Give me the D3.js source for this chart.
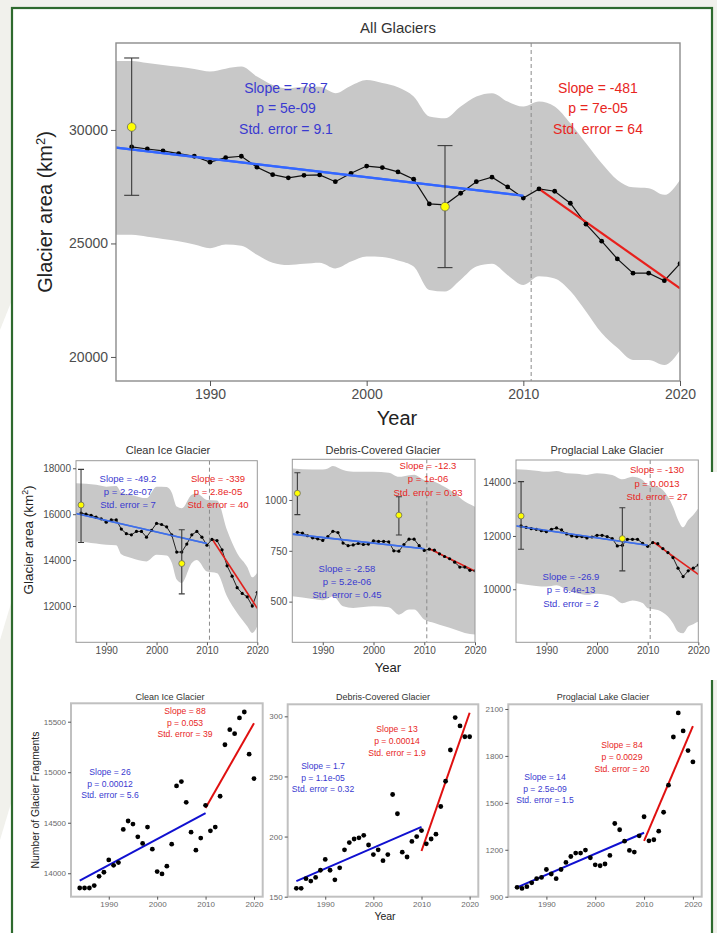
<!DOCTYPE html>
<html>
<head>
<meta charset="utf-8">
<script src="https://cdn.jsdelivr.net/npm/d3@7"></script>
<style>
  body { margin: 0; background: #f1f1ec; }
  svg { display: block; font-family: "Liberation Sans", Arial, sans-serif; }
</style>
</head>
<body>
<div id="chart"></div>
<script>
// ---------- data ----------
var areaYears = [1985,1986,1987,1988,1989,1990,1991,1992,1993,1994,1995,1996,1997,1998,1999,2000,2001,2002,
  2003,2004,2005,2006,2007,2008,2009,2010,2011,2012,2013,2014,2015,2016,2017,2018,2019,2020];
var bandYears = [1984,1985,1986,1987,1988,1989,1990,1991,1992,1993,1994,1995,1996,1997,1998,1999,2000,2001,2002,
  2003,2004,2005,2006,2007,2008,2009,2010,2011,2012,2013,2014,2015,2016,2017,2018,2019,2020];
var fragYears = bandYears;
var spotYears = [1985, 2005];

// All glaciers (km2)
var allArea = [29250,29160,29080,28960,28840,28580,28780,28840,28360,28030,
  27890,28000,28020,27720,28090,28410,28340,28150,27830,26740,
  26700,27210,27720,27920,27490,27000,27400,27300,26770,25850,
  25100,24320,23690,23690,23360,24110];
var allUpper = [33040,33040,32950,32860,32780,32680,32570,32700,32790,32350,
  31980,31830,31900,31900,31620,31950,32200,32070,31880,31470,
  30590,30510,31030,31470,31620,31250,31030,31250,31030,30290,
  29410,28530,27800,27470,27430,27140,27800];
var allLower = [25380,25380,25300,25200,25100,24950,24790,24950,24900,24500,
  24150,24050,24100,24150,23900,24200,24420,24400,24250,23980,
  22950,22880,23400,23980,24100,23600,23170,23550,23450,22900,
  22000,21050,20400,19870,19870,19650,20300];
var allSpot = [30130, 26620], allSpotLo = [27120, 23935], allSpotHi = [33170, 29310];
var allTrendPre = [[1984, 29220], [2010, 27100]];
var allTrendPost = [[2011, 27400], [2020, 23020]];

// Clean ice (km2)
var cleanArea = [16050,16000,15950,15870,15800,15650,15750,15750,15350,15150,
  15100,15250,15250,15000,15300,15600,15550,15450,15100,14350,
  14350,14700,15100,15250,15000,14650,14900,14850,14450,13750,
  13300,12800,12550,12400,12000,12600];
var cleanBandYears = [1984,1986,1988,1990,1992,1993,1995,1998,2000,2002,2003,2004,2005,2007,2008,2010,2012,2014,2016,2018,2019,2020];
var cleanUpper = [17350,17330,17280,17200,17230,16950,16840,16700,17200,17180,16950,16330,16260,16850,16900,16620,16600,15300,14300,13700,13250,13450];
var cleanLower = [14810,14780,14720,14670,14650,14250,14090,13940,14230,14200,13900,13150,13000,13870,14000,13500,13430,12420,11700,11120,10830,11120];
var cleanSpot = [16400, 13850], cleanSpotLo = [14770, 12530], cleanSpotHi = [17950, 15320];
var cleanTrendPre = [[1984, 16030], [2010, 14720]];
var cleanTrendPost = [[2011, 14930], [2020, 11900]];

// Debris-covered (km2)
var debrisArea = [841,837,824,814,809,801,820,846,840,788,
  775,779,786,781,783,799,796,796,794,750,
  748,781,807,807,775,752,758,753,735,722,
  711,694,670,670,654,652];
var debrisBandYears = [1984,1988,1990,1991,1992,1994,1996,2000,2003,2005,2007,2008,2010,2012,2014,2016,2018,2020];
var debrisUpper = [1155,1150,1150,1155,1167,1147,1139,1139,1134,1114,1122,1124,1098,1090,1065,1033,992,967];
var debrisLower = [526,513,507,515,526,477,469,477,472,436,461,461,412,395,379,363,346,338];
var debrisSpot = [1033, 925], debrisSpotLo = [928, 828], debrisSpotHi = [1134, 1016];
var debrisTrendPre = [[1984, 832], [2010, 760]];
var debrisTrendPost = [[2011, 760], [2020, 650]];

// Proglacial lake (km2)
var lakeArea = [12375,12325,12275,12250,12200,12160,12250,12300,12225,12075,
  12000,11975,11975,11925,11960,12025,12025,11975,11900,11625,
  11650,11875,11875,11875,11725,11610,11750,11710,11525,11375,
  11190,10790,10475,10690,10790,10910];
var lakeBandYears = [1984,1988,1990,1992,1994,1996,1998,2000,2003,2005,2007,2009,2010,2012,2014,2015,2016,2017,2018,2019,2020];
var lakeUpper = [14500,14450,14410,14440,14350,14330,14290,14350,14290,14125,14225,14100,13910,13850,13475,13100,12600,12325,12600,12790,13040];
var lakeLower = [10225,10125,10100,10150,9975,9850,9790,9830,9725,9475,9575,9480,9290,9225,8975,8725,8410,8350,8600,8690,8790];
var lakeSpot = [12750, 11900], lakeSpotLo = [11500, 10690], lakeSpotHi = [14040, 13060];
var lakeTrendPre = [[1984, 12375], [2010, 11650]];
var lakeTrendPost = [[2011, 11790], [2020, 10560]];

// Number of glacier fragments
var cleanFrag = [13854,13854,13854,13878,13970,14010,14132,14079,14106,14434,
  14517,14487,14361,14295,14457,14238,14017,13993,14070,14288,
  14864,14907,14702,14407,14228,14348,14672,14420,14457,14762,
  15272,15421,15381,15537,15596,15179,14937];
var debrisFrag = [157,157,165,163,166,172,181,172,164,174,
  189,195,198,199,201,193,185,189,180,185,
  235,219,187,183,196,200,205,194,198,202,
  225,246,272,299,292,283,283];
var lakeFrag = [960,953,964,989,1015,1023,1074,1045,1015,1074,
  1119,1157,1179,1179,1198,1149,1104,1098,1109,1164,
  1368,1328,1255,1196,1185,1289,1411,1257,1264,1319,
  1440,1613,1921,2075,1960,1834,1762];
var cleanFragPre = [[1984, 13927], [2010, 14595]], cleanFragPost = [[2010, 14646], [2020, 15485]];
var debrisFragPre = [[1984, 163], [2010, 208]], debrisFragPost = [[2010, 188], [2020, 303]];
var lakeFragPre = [[1984, 960], [2010, 1309]], lakeFragPost = [[2010, 1257], [2020, 1990]];

// tick labels
var yearTicks = [1990, 2000, 2010, 2020];
var allTicks = [20000, 25000, 30000];
var cleanTicks = [12000, 14000, 16000, 18000];
var debrisTicks = [500, 750, 1000];
var lakeTicks = [10000, 12000, 14000];
var cleanFragTicks = [14000, 14500, 15000, 15500];
var debrisFragTicks = [150, 200, 250, 300];
var lakeFragTicks = [900, 1200, 1500, 1800, 2100];

// statistics text
var allPreStats = ["Slope = -78.7", "p = 5e-09", "Std. error = 9.1"];
var allPostStats = ["Slope = -481", "p = 7e-05", "Std. error = 64"];
var cleanPreStats = ["Slope = -49.2", "p = 2.2e-07", "Std. error = 7"];
var cleanPostStats = ["Slope = -339", "p = 2.8e-05", "Std. error = 40"];
var debrisPreStats = ["Slope = -2.58", "p = 5.2e-06", "Std. error = 0.45"];
var debrisPostStats = ["Slope = -12.3", "p = 1e-06", "Std. error = 0.93"];
var lakePreStats = ["Slope = -26.9", "p = 6.4e-13", "Std. error = 2"];
var lakePostStats = ["Slope = -130", "p = 0.0013", "Std. error = 27"];
var cleanFragPreStats = ["Slope = 26", "p = 0.00012", "Std. error = 5.6"];
var cleanFragPostStats = ["Slope = 88", "p = 0.053", "Std. error = 39"];
var debrisFragPreStats = ["Slope = 1.7", "p = 1.1e-05", "Std. error = 0.32"];
var debrisFragPostStats = ["Slope = 13", "p = 0.00014", "Std. error = 1.9"];
var lakeFragPreStats = ["Slope = 14", "p = 2.5e-09", "Std. error = 1.5"];
var lakeFragPostStats = ["Slope = 84", "p = 0.0029", "Std. error = 20"];

// ---------- page ----------
var svgWidth = 717;
var svgHeight = 933;
var breakYear = 2010.5;

var svg = d3.select("#chart")
  .append("svg")
  .attr("width", svgWidth)
  .attr("height", svgHeight);

svg.append("rect").attr("width", svgWidth).attr("height", svgHeight).attr("fill", "#f1f1ec");
svg.append("path").attr("d", "M0,330 L12,300 L12,600 L0,640 Z").attr("fill", "#fff");
svg.append("path").attr("d", "M0,840 L12,800 L12,933 L0,933 Z").attr("fill", "#fff");

// green frame
svg.append("rect")
  .attr("x", 12).attr("y", 8)
  .attr("width", 700).attr("height", 940)
  .attr("fill", "#fff")
  .attr("stroke", "#2e6a2e")
  .attr("stroke-width", 2.2);
// the middle row picture runs over the right edge of the frame
svg.append("rect").attr("x", 700).attr("y", 472).attr("width", 17).attr("height", 208).attr("fill", "#fff");

function statText(lines, cx, cy, gap, size, color) {
  svg.append("g").selectAll("text").data(lines).enter()
    .append("text")
    .attr("x", cx)
    .attr("y", (d, i) => cy + i * gap + size * 0.35)
    .attr("text-anchor", "middle")
    .attr("font-size", size)
    .attr("fill", color)
    .text(d => d);
}

function drawPanel(p) {
  var x = d3.scaleLinear().domain(p.xDomain).range([p.left, p.right]);
  var y = d3.scaleLinear().domain(p.yDomain).range([p.bottom, p.top]);

  var clipId = "clip" + p.id;
  svg.append("clipPath").attr("id", clipId)
    .append("rect")
    .attr("x", p.left).attr("y", p.top)
    .attr("width", p.right - p.left).attr("height", p.bottom - p.top);

  var g = svg.append("g").attr("clip-path", `url(#${clipId})`);

  // uncertainty band
  if (p.bandYears) {
    var area = d3.area()
      .x((d, i) => x(p.bandYears[i]))
      .y0((d, i) => y(p.lower[i]))
      .y1((d, i) => y(p.upper[i]))
      .curve(d3.curveMonotoneX);
    g.append("path").datum(p.upper).attr("d", area).attr("fill", "#c8c8c8");
  }

  if (p.dashed) {
    g.append("line")
      .attr("x1", x(breakYear)).attr("x2", x(breakYear))
      .attr("y1", p.top).attr("y2", p.bottom)
      .attr("stroke", "#8a8a8a").attr("stroke-width", 1)
      .attr("stroke-dasharray", "4,3");
  }

  var line = d3.line().x(d => x(d[0])).y(d => y(d[1]));

  // measured series
  if (p.connect) {
    g.append("path")
      .datum(p.values.map((v, i) => [p.years[i], v]))
      .attr("d", line)
      .attr("fill", "none")
      .attr("stroke", "#111")
      .attr("stroke-width", p.lineW);
  }

  // trend lines
  g.append("path").datum(p.pre).attr("d", line)
    .attr("fill", "none").attr("stroke", p.blue).attr("stroke-width", p.trendW);
  g.append("path").datum(p.post).attr("d", line)
    .attr("fill", "none").attr("stroke", p.red).attr("stroke-width", p.trendW);

  g.selectAll(".pt").data(p.values).enter()
    .append("circle")
    .attr("cx", (d, i) => x(p.years[i]))
    .attr("cy", d => y(d))
    .attr("r", p.dotR)
    .attr("fill", "#000");

  if (p.connect) {
    g.append("path").datum(p.pre).attr("d", line)
      .attr("fill", "none").attr("stroke", p.blue).attr("stroke-width", p.trendW).attr("opacity", 0.9);
  }

  // survey spots with error bars
  if (p.spot) {
    p.spot.forEach(function(v, i) {
      var sx = x(spotYears[i]);
      var eg = g.append("g").attr("stroke", "#3a3a3a").attr("stroke-width", 1.1);
      eg.append("line").attr("x1", sx).attr("x2", sx).attr("y1", y(p.spotLo[i])).attr("y2", y(p.spotHi[i]));
      eg.append("line").attr("x1", sx - p.cap).attr("x2", sx + p.cap).attr("y1", y(p.spotLo[i])).attr("y2", y(p.spotLo[i]));
      eg.append("line").attr("x1", sx - p.cap).attr("x2", sx + p.cap).attr("y1", y(p.spotHi[i])).attr("y2", y(p.spotHi[i]));
      g.append("circle")
        .attr("cx", sx).attr("cy", y(v))
        .attr("r", p.spotR)
        .attr("fill", "#ffff00")
        .attr("stroke", "#666")
        .attr("stroke-width", 0.8);
    });
  }

  // panel border
  svg.append("rect")
    .attr("x", p.left).attr("y", p.top)
    .attr("width", p.right - p.left).attr("height", p.bottom - p.top)
    .attr("fill", "none")
    .attr("stroke", p.border)
    .attr("stroke-width", p.borderW);

  // axes
  var bottomAxis = d3.axisBottom(x).tickValues(yearTicks).tickFormat(d3.format("d"))
    .tickSize(p.tick).tickPadding(p.pad);
  var leftAxis = d3.axisLeft(y).tickValues(p.yTicks).tickFormat(d3.format("d"))
    .tickSize(p.tick).tickPadding(p.pad);

  var xa = svg.append("g").attr("transform", `translate(0,${p.bottom})`).call(bottomAxis);
  var ya = svg.append("g").attr("transform", `translate(${p.left},0)`).call(leftAxis);
  [xa, ya].forEach(function(a) {
    a.select(".domain").remove();
    a.selectAll(".tick line").attr("stroke", "#555");
    a.selectAll(".tick text")
      .attr("fill", p.tickColor)
      .attr("font-size", p.tickFont)
      .attr("font-family", "Liberation Sans, Arial, sans-serif");
  });

  // title
  svg.append("text")
    .attr("x", p.titleX).attr("y", p.titleY)
    .attr("text-anchor", "middle")
    .attr("font-size", p.titleFont)
    .attr("fill", "#333")
    .text(p.title);

  statText(p.preStats, p.preX, p.preY, p.gap, p.statFont, p.blueText);
  statText(p.postStats, p.postX, p.postY, p.gap, p.statFont, p.redText);
}

// ---------- top panel ----------
drawPanel({
  id: "all", left: 116, right: 680, top: 43, bottom: 381,
  xDomain: [1984, 2020], yDomain: [18940, 33830], yTicks: allTicks,
  years: areaYears, values: allArea, connect: true, lineW: 1.2, dotR: 2.4,
  bandYears: bandYears, upper: allUpper, lower: allLower, dashed: true,
  pre: allTrendPre, post: allTrendPost, trendW: 2.2, blue: "#3366ff", red: "#e8201c",
  spot: allSpot, spotLo: allSpotLo, spotHi: allSpotHi, cap: 7.5, spotR: 4.3,
  border: "#8c8c8c", borderW: 1.4, tick: 5, pad: 3, tickFont: 14, tickColor: "#4d4d4d",
  title: "All Glaciers", titleX: 398, titleY: 33, titleFont: 15,
  preStats: allPreStats, preX: 286, preY: 88.3,
  postStats: allPostStats, postX: 598, postY: 88.3,
  gap: 20.2, statFont: 14, blueText: "#3a3ad0", redText: "#e8261e"
});

// ---------- middle row ----------
var mid = {
  xDomain: [1984, 2020], years: areaYears, connect: true, lineW: 0.9, dotR: 1.6,
  dashed: true, trendW: 1.6, blue: "#3f6fe8", red: "#e0201c",
  cap: 3, spotR: 3, border: "#999", borderW: 1, tick: 3, pad: 2, tickFont: 10, tickColor: "#4d4d4d",
  titleY: 454, titleFont: 11, gap: 13.4, statFont: 9.5,
  blueText: "#3a3ad0", redText: "#e8261e"
};

drawPanel(Object.assign({}, mid, {
  id: "clean", left: 76, right: 257.3, top: 460.7, bottom: 642.3,
  yDomain: [10420, 18330], yTicks: cleanTicks, values: cleanArea,
  bandYears: cleanBandYears, upper: cleanUpper, lower: cleanLower,
  pre: cleanTrendPre, post: cleanTrendPost,
  spot: cleanSpot, spotLo: cleanSpotLo, spotHi: cleanSpotHi,
  title: "Clean Ice Glacier", titleX: 168,
  preStats: cleanPreStats, preX: 128, preY: 478.3,
  postStats: cleanPostStats, postX: 218, postY: 478.3
}));

drawPanel(Object.assign({}, mid, {
  id: "debris", left: 292.3, right: 475, top: 459.3, bottom: 642.3,
  yDomain: [300, 1200], yTicks: debrisTicks, values: debrisArea,
  bandYears: debrisBandYears, upper: debrisUpper, lower: debrisLower,
  pre: debrisTrendPre, post: debrisTrendPost,
  spot: debrisSpot, spotLo: debrisSpotLo, spotHi: debrisSpotHi,
  title: "Debris-Covered Glacier", titleX: 383,
  preStats: debrisPreStats, preX: 347, preY: 568.3,
  postStats: debrisPostStats, postX: 428, postY: 465.7
}));

drawPanel(Object.assign({}, mid, {
  id: "lake", left: 516, right: 698.3, top: 460, bottom: 642.3,
  yDomain: [8010, 14850], yTicks: lakeTicks, values: lakeArea,
  bandYears: lakeBandYears, upper: lakeUpper, lower: lakeLower,
  pre: lakeTrendPre, post: lakeTrendPost,
  spot: lakeSpot, spotLo: lakeSpotLo, spotHi: lakeSpotHi,
  title: "Proglacial Lake Glacier", titleX: 607,
  preStats: lakePreStats, preX: 571, preY: 576.7,
  postStats: lakePostStats, postX: 657, postY: 470
}));

// ---------- bottom row ----------
var low = {
  xDomain: [1982.2, 2021.8], years: fragYears, connect: false, dotR: 2.4,
  dashed: false, trendW: 2, blue: "#1010d0", red: "#e01010",
  border: "#c0c0c0", borderW: 2, tick: 3, pad: 2, tickFont: 8, tickColor: "#6a6a6a",
  titleY: 699.5, titleFont: 9, gap: 11.8, statFont: 8.6,
  blueText: "#3a3ad0", redText: "#e8261e"
};

drawPanel(Object.assign({}, low, {
  id: "cleanFrag", left: 71, right: 262.7, top: 703.3, bottom: 896.7,
  yDomain: [13768, 15682], yTicks: cleanFragTicks, values: cleanFrag,
  pre: cleanFragPre, post: cleanFragPost,
  title: "Clean Ice Glacier", titleX: 170,
  preStats: cleanFragPreStats, preX: 110, preY: 771.7,
  postStats: cleanFragPostStats, postX: 185, postY: 710.7
}));

drawPanel(Object.assign({}, low, {
  id: "debrisFrag", left: 287.7, right: 478.3, top: 704.3, bottom: 896.7,
  yDomain: [150, 310], yTicks: debrisFragTicks, values: debrisFrag,
  pre: debrisFragPre, post: debrisFragPost,
  title: "Debris-Covered Glacier", titleX: 383,
  preStats: debrisFragPreStats, preX: 323, preY: 765.7,
  postStats: debrisFragPostStats, postX: 397, postY: 729.3
}));

drawPanel(Object.assign({}, low, {
  id: "lakeFrag", left: 508.3, right: 701.7, top: 704.3, bottom: 896.7,
  yDomain: [900, 2130], yTicks: lakeFragTicks, values: lakeFrag,
  pre: lakeFragPre, post: lakeFragPost,
  title: "Proglacial Lake Glacier", titleX: 603,
  preStats: lakeFragPreStats, preX: 545, preY: 776.7,
  postStats: lakeFragPostStats, postX: 622, postY: 745
}));

// ---------- axis titles ----------
function yLabel(cx, cy, size) {
  var t = svg.append("text")
    .attr("transform", `translate(${cx},${cy}) rotate(-90)`)
    .attr("text-anchor", "middle")
    .attr("font-size", size)
    .attr("fill", "#222");
  t.append("tspan").text("Glacier area (km");
  t.append("tspan").attr("baseline-shift", "super").attr("font-size", size * 0.65).text("2");
  t.append("tspan").text(")");
}
yLabel(52, 212, 20);
yLabel(33, 540, 13.5);

svg.append("text")
  .attr("transform", "translate(39,800) rotate(-90)")
  .attr("text-anchor", "middle")
  .attr("font-size", 10.4)
  .attr("fill", "#222")
  .text("Number of Glacier Fragments");

svg.append("text").attr("x", 397).attr("y", 425).attr("text-anchor", "middle")
  .attr("font-size", 20).attr("fill", "#222").text("Year");
svg.append("text").attr("x", 388).attr("y", 672).attr("text-anchor", "middle")
  .attr("font-size", 13).attr("fill", "#222").text("Year");
svg.append("text").attr("x", 385).attr("y", 920).attr("text-anchor", "middle")
  .attr("font-size", 10.5).attr("fill", "#222").text("Year");
</script>
</body>
</html>
